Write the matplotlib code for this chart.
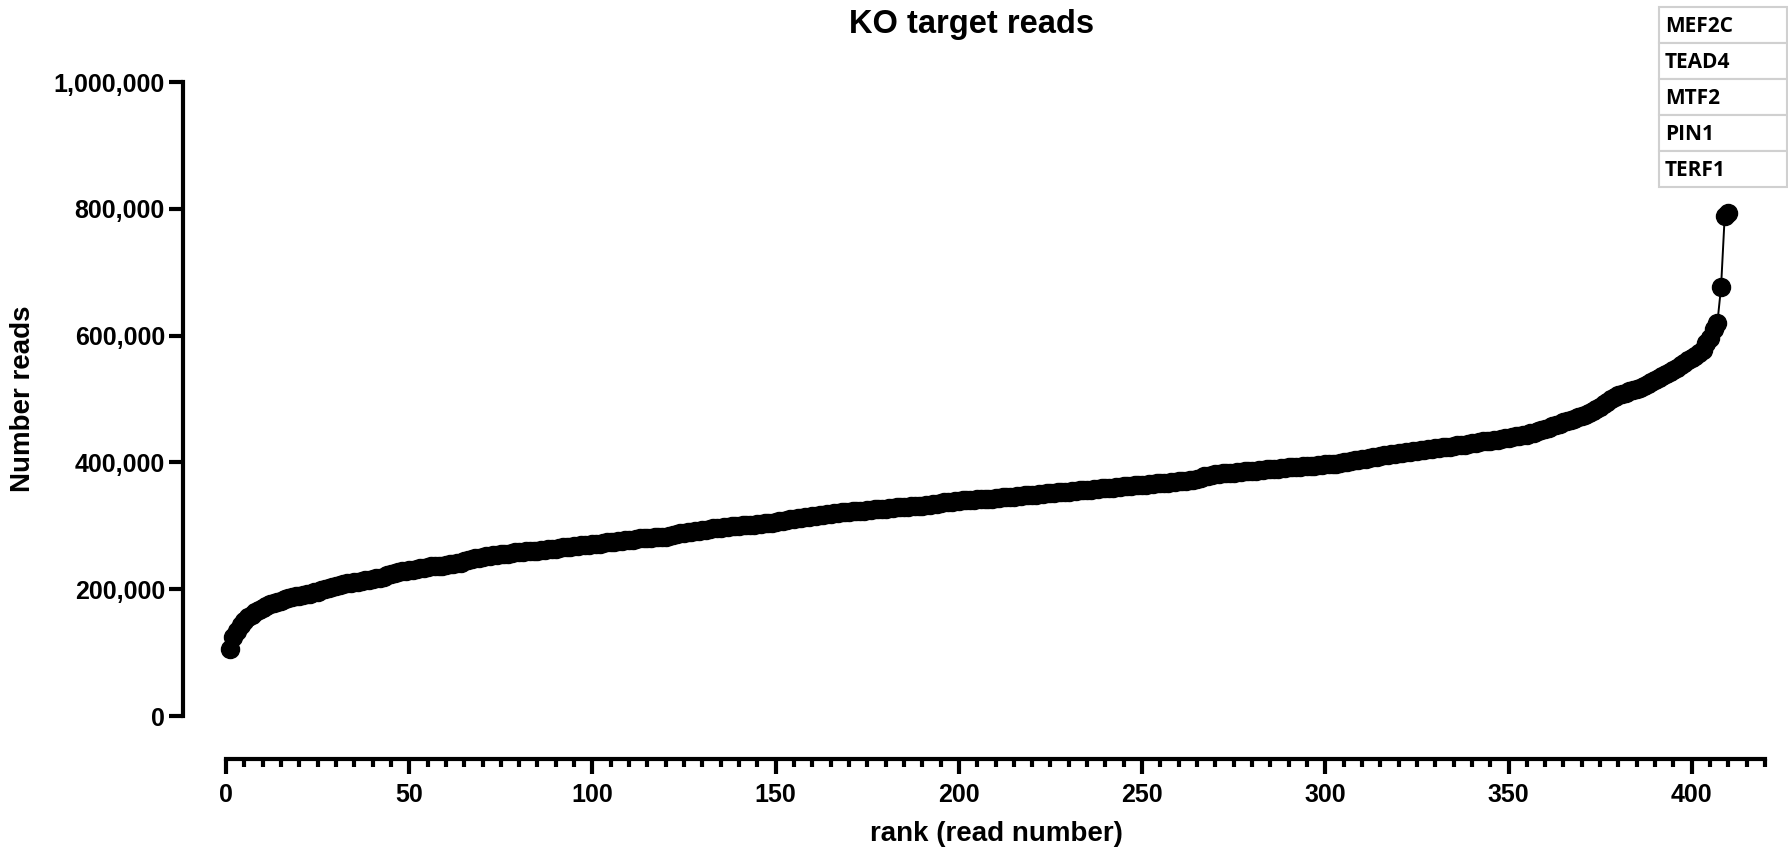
import matplotlib.pyplot as plt
from matplotlib.ticker import MultipleLocator, FuncFormatter
from matplotlib.patches import Rectangle

plt.rcParams['font.family'] = ['Liberation Sans', 'DejaVu Sans']

# reads per KO target, sorted ascending (in thousands)
reads_k = [
    105, 125, 134, 143, 150, 156, 160, 164, 167, 170,
    173, 176, 178, 180, 182, 184, 186, 187, 189, 190,
    191, 192, 193, 195, 196, 198, 200, 202, 204, 205,
    207, 208, 209, 210, 211, 212, 213, 214, 215, 216,
    217, 218, 220, 222, 224, 226, 227, 228, 229, 230,
    231, 232, 233, 234, 235, 236, 236, 237, 237, 238,
    239, 240, 241, 242, 244, 246, 248, 249, 250, 251,
    252, 253, 254, 254, 255, 256, 256, 257, 258, 258,
    259, 260, 260, 261, 261, 262, 262, 263, 263, 264,
    265, 266, 266, 267, 268, 268, 269, 269, 270, 271,
    272, 272, 273, 274, 274, 275, 276, 276, 277, 278,
    278, 279, 280, 280, 281, 281, 282, 282, 283, 283,
    284, 285, 287, 288, 289, 290, 291, 292, 292, 293,
    294, 295, 296, 296, 297, 298, 298, 299, 300, 300,
    301, 301, 302, 302, 303, 303, 304, 304, 305, 306,
    307, 308, 309, 310, 311, 312, 313, 314, 314, 315,
    316, 317, 317, 318, 319, 320, 320, 321, 322, 322,
    323, 323, 324, 324, 325, 325, 326, 326, 327, 327,
    328, 328, 329, 329, 330, 330, 331, 331, 332, 332,
    333, 333, 334, 335, 336, 337, 337, 338, 339, 339,
    340, 340, 341, 341, 342, 342, 343, 343, 343, 344,
    344, 345, 345, 346, 346, 347, 347, 348, 348, 349,
    349, 350, 350, 351, 352, 352, 353, 353, 354, 354,
    355, 355, 356, 356, 357, 357, 358, 358, 359, 359,
    360, 360, 361, 361, 362, 362, 363, 364, 364, 365,
    365, 366, 366, 367, 367, 368, 368, 369, 369, 370,
    370, 371, 372, 373, 374, 376, 378, 379, 380, 381,
    382, 383, 383, 384, 384, 385, 385, 386, 386, 387,
    387, 388, 388, 389, 389, 390, 390, 391, 391, 392,
    392, 393, 393, 394, 394, 395, 395, 396, 396, 397,
    397, 398, 398, 399, 400, 401, 402, 403, 404, 405,
    406, 407, 408, 409, 410, 411, 412, 413, 414, 415,
    415, 416, 417, 418, 418, 419, 420, 421, 421, 422,
    423, 424, 424, 425, 426, 427, 427, 428, 429, 430,
    431, 432, 433, 434, 434, 435, 436, 437, 438, 439,
    440, 441, 442, 443, 444, 446, 447, 449, 451, 453,
    455, 457, 459, 461, 463, 465, 467, 469, 471, 473,
    475, 478, 481, 484, 488, 492, 496, 500, 503, 506,
    508, 510, 512, 514, 516, 518, 521, 524, 527, 530,
    533, 536, 539, 542, 545, 549, 553, 557, 561, 565,
    568, 572, 578, 588, 596, 610, 620, 676, 788, 794,
]
reads = [v * 1000 for v in reads_k]
ranks = list(range(1, len(reads) + 1))

top_genes = ['MEF2C', 'TEAD4', 'MTF2', 'PIN1', 'TERF1']

W, H = 1788, 855
fig = plt.figure(figsize=(W / 100, H / 100), dpi=100)

# axes box in pixels: x 226..1765, y 82..716 (from top)
ax = fig.add_axes([226 / W, (H - 716) / H, (1765 - 226) / W, (716 - 82) / H])

ax.plot(ranks, reads, color='black', lw=1.4, marker='o', ms=13,
        markerfacecolor='black', markeredgecolor='black', clip_on=False, zorder=3)

ax.set_xlim(0, 420)
ax.set_ylim(0, 1000000)

for s in ['top', 'right']:
    ax.spines[s].set_visible(False)
ax.spines['left'].set_position(('outward', 31))
ax.spines['bottom'].set_position(('outward', 31))
for s in ['left', 'bottom']:
    ax.spines[s].set_linewidth(3)
    ax.spines[s].set_capstyle('projecting')

ax.yaxis.set_major_locator(MultipleLocator(200000))
ax.yaxis.set_major_formatter(FuncFormatter(lambda v, p: f'{int(v):,}'))
ax.xaxis.set_major_locator(MultipleLocator(50))
ax.xaxis.set_minor_locator(MultipleLocator(5))

ax.tick_params(axis='y', which='major', length=10, width=3, pad=3, labelsize=18)
ax.tick_params(axis='x', which='major', length=11, width=3, pad=6, labelsize=18)
ax.tick_params(axis='x', which='minor', length=6, width=3)
for lab in ax.get_xticklabels() + ax.get_yticklabels():
    lab.set_fontweight('bold')

fig.text(972 / W, 1 - 24 / H, 'KO target reads', ha='center', va='center',
         fontsize=23.5, fontweight='bold')
fig.text(996 / W, 1 - 834 / H, 'rank (read number)', ha='center', va='center',
         fontsize=20, fontweight='bold')
fig.text(23 / W, 1 - 399 / H, 'Number reads', ha='center', va='center',
         rotation=90, fontsize=20, fontweight='bold')

# little table of the top targets
row_top = 7
row_h = 36
for i, g in enumerate(top_genes):
    y0 = row_top + i * row_h
    fig.patches.append(Rectangle((1659 / W, 1 - (y0 + row_h) / H), (1787 - 1659) / W, row_h / H,
                                 transform=fig.transFigure, facecolor='white',
                                 edgecolor='#d0d0d0', lw=1.5))
    fig.text(1665 / W, 1 - (y0 + row_h / 2 + 1) / H, g, ha='left', va='center',
             fontsize=15, family=['Open Sans', 'DejaVu Sans'], fontweight='bold')

fig.savefig('out.png', dpi=100)
